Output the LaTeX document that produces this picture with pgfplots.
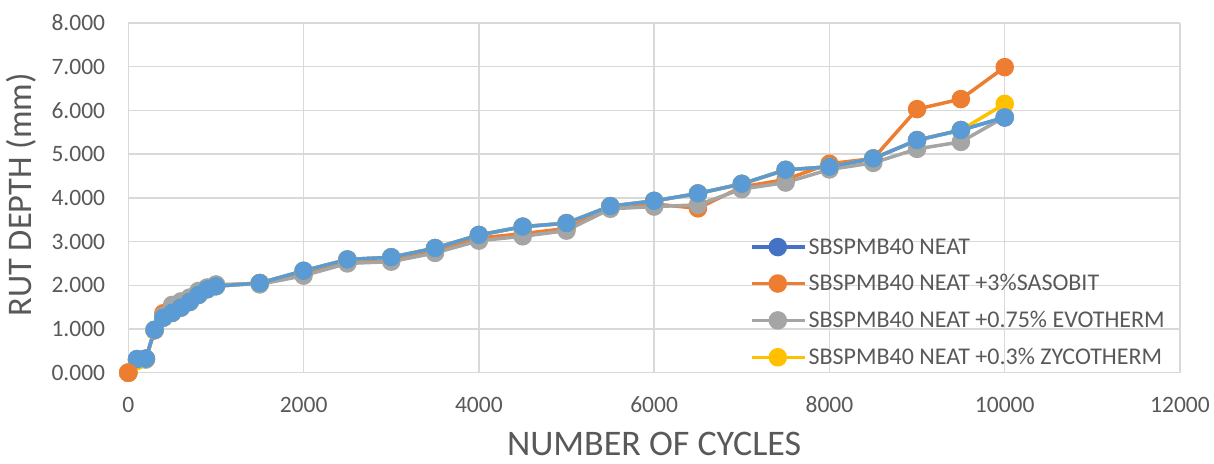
\documentclass[border=0pt]{standalone}
\usepackage{pgfplots}
\pgfplotsset{compat=1.18}
\usepackage{fontspec}
\setmainfont{Carlito}
\definecolor{cblue}{HTML}{4472C4}
\definecolor{corange}{HTML}{ED7D31}
\definecolor{cgray}{HTML}{A5A5A5}
\definecolor{cyellow}{HTML}{FFC000}
\definecolor{clblue}{HTML}{5B9BD5}
\definecolor{cgrid}{HTML}{D9D9D9}
\definecolor{ctext}{HTML}{595959}
\begin{document}
\begin{tikzpicture}
\path[use as bounding box] (-128.3pt,-90.3pt) rectangle (1085.7pt,372.7pt);
\begin{axis}[
  at={(0pt,0pt)}, anchor=south west,
  scale only axis, width=1051.7pt, height=349.7pt,
  xmin=0, xmax=12000, ymin=0, ymax=8,
  xtick={0,2000,...,12000}, ytick={0,1,...,8},
  grid=major, grid style={cgrid, line width=1.3pt},
  axis line style={draw=none},
  major tick length=0pt,
  scaled x ticks=false,
  clip=false,
  /pgf/number format/assume math mode=true,
  xticklabel style={/pgf/number format/1000 sep={}, font=\fontsize{23.5}{27}\selectfont, text=ctext, anchor=center, inner sep=0pt, yshift=-32pt},
  yticklabel style={/pgf/number format/.cd, fixed, fixed zerofill, precision=3, /tikz/.cd, font=\fontsize{23.5}{27}\selectfont, text=ctext, anchor=east, inner sep=0pt, xshift=-23pt},
  xlabel={NUMBER OF CYCLES},
  ylabel={RUT DEPTH (mm)},
  every axis x label/.style={at={(axis description cs:0.5,0)}, yshift=-71pt, anchor=center, inner sep=0pt, font=\fontsize{36}{40}\selectfont, text=ctext},
  every axis y label/.style={at={(axis description cs:0,0.5)}, xshift=-107pt, yshift=3pt, rotate=90, anchor=center, inner sep=0pt, font=\fontsize{34.5}{38}\selectfont, text=ctext},
  legend style={draw=none, fill=none, at={(axis description cs:0.591,0.39)}, anchor=north west, font=\fontsize{24}{28}\selectfont, text=ctext, row sep=15pt, inner sep=0pt, nodes={inner sep=2pt}},
  legend cell align=left,
  legend image code/.code={\draw[mark repeat=2,mark phase=2] plot coordinates {(0pt,0pt) (26pt,0pt) (53pt,0pt)};},
  every axis plot/.append style={line width=3.5pt, mark=*, mark size=7.5pt, mark options={solid}},
]
\addplot[cblue, mark options={fill=cblue, draw=cblue}] coordinates {
(0,0) (100,0.31) (200,0.32) (300,0.98) (400,1.26) (500,1.37) (600,1.49) (700,1.62) (800,1.78) (900,1.91) (1000,1.98)
(1500,2.05) (2000,2.33) (2500,2.59) (3000,2.64) (3500,2.85) (4000,3.15) (4500,3.34) (5000,3.42) (5500,3.81) (6000,3.93)
(6500,4.10) (7000,4.32) (7500,4.64) (8000,4.71) (8500,4.90) (9000,5.32) (9500,5.55) (10000,5.84)};
\addlegendentry{SBSPMB40 NEAT}
\addplot[corange, mark options={fill=corange, draw=corange}] coordinates {
(0,0) (100,0.30) (200,0.32) (300,0.97) (400,1.36) (500,1.45) (600,1.55) (700,1.65) (800,1.80) (900,1.92) (1000,2.00)
(1500,2.05) (2000,2.28) (2500,2.55) (3000,2.60) (3500,2.80) (4000,3.08) (4500,3.18) (5000,3.30) (5500,3.78) (6000,3.86)
(6500,3.76) (7000,4.25) (7500,4.42) (8000,4.78) (8500,4.90) (9000,6.03) (9500,6.26) (10000,6.99)};
\addlegendentry{SBSPMB40 NEAT +3\%SASOBIT}
\addplot[cgray, mark options={fill=cgray, draw=cgray}] coordinates {
(0,0) (100,0.28) (200,0.30) (300,0.97) (400,1.30) (500,1.55) (600,1.63) (700,1.72) (800,1.87) (900,1.95) (1000,2.02)
(1500,2.02) (2000,2.22) (2500,2.50) (3000,2.54) (3500,2.74) (4000,3.02) (4500,3.12) (5000,3.25) (5500,3.75) (6000,3.80)
(6500,3.84) (7000,4.20) (7500,4.35) (8000,4.65) (8500,4.80) (9000,5.12) (9500,5.28) (10000,5.85)};
\addlegendentry{SBSPMB40 NEAT +0.75\% EVOTHERM}
\addplot[cyellow, mark options={fill=cyellow, draw=cyellow}] coordinates {
(0,0) (100,0.27) (200,0.31) (300,0.98) (400,1.26) (500,1.37) (600,1.49) (700,1.62) (800,1.78) (900,1.91) (1000,1.98)
(1500,2.05) (2000,2.33) (2500,2.59) (3000,2.64) (3500,2.85) (4000,3.15) (4500,3.34) (5000,3.42) (5500,3.81) (6000,3.93)
(6500,4.10) (7000,4.32) (7500,4.64) (8000,4.71) (8500,4.90) (9000,5.32) (9500,5.55) (10000,6.15)};
\addlegendentry{SBSPMB40 NEAT +0.3\% ZYCOTHERM}
\addplot[clblue, mark options={fill=clblue, draw=clblue}, forget plot] coordinates {
(100,0.31) (200,0.32) (300,0.98) (400,1.26) (500,1.37) (600,1.49) (700,1.62) (800,1.78) (900,1.91) (1000,1.98)
(1500,2.05) (2000,2.33) (2500,2.59) (3000,2.64) (3500,2.85) (4000,3.15) (4500,3.34) (5000,3.42) (5500,3.81) (6000,3.93)
(6500,4.10) (7000,4.32) (7500,4.64) (8000,4.71) (8500,4.90) (9000,5.32) (9500,5.55) (10000,5.84)};
\addplot[corange, mark options={fill=corange, draw=corange}, forget plot] coordinates {(0,0)};
\end{axis}
\end{tikzpicture}
\end{document}
